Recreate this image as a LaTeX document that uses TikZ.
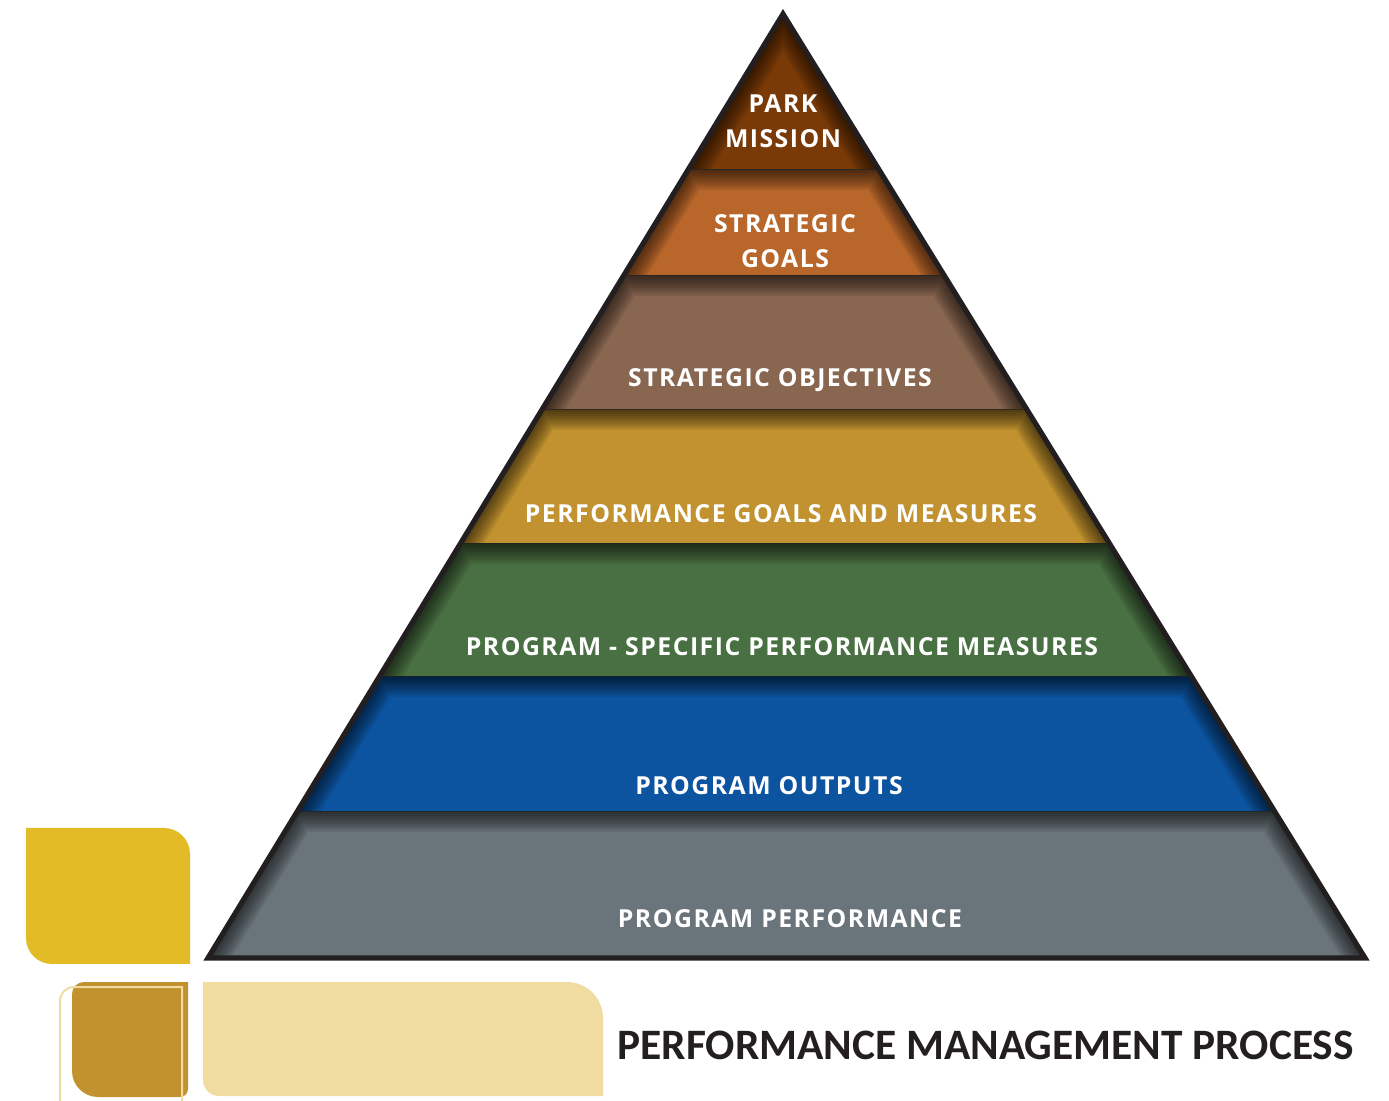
\documentclass[tikz,border=0pt]{standalone}
\usepackage{fontspec}
\setmainfont{Open Sans}
\newfontfamily\bandfont{Open Sans}[LetterSpace=6.0]
\newfontfamily\headfont{Carlito}
\usetikzlibrary{calc}

\definecolor{missionbrown}{RGB}{122,58,8}
\definecolor{goalorange}{RGB}{185,102,42}
\definecolor{objbrown}{RGB}{137,102,80}
\definecolor{perfgold}{RGB}{193,146,47}
\definecolor{progreen}{RGB}{73,112,66}
\definecolor{outblue}{RGB}{12,84,160}
\definecolor{perfgrey}{RGB}{106,116,123}
\definecolor{outlinedark}{RGB}{35,31,32}
\definecolor{tileyellow}{RGB}{226,187,38}
\definecolor{tilegold}{RGB}{194,146,46}
\definecolor{tilecream}{RGB}{240,220,160}

\begin{document}
\begin{tikzpicture}[
    x=0.5pt, y=-0.5pt,
    bandlabel/.style={text=white, font=\bandfont\bfseries\fontsize{12.4}{17.5}\selectfont, align=center, inner sep=0pt},
    shadowline/.style={line width=#1, black, opacity=0.075},
    outline/.style={draw=outlinedark, line width=2.6pt, line join=miter},
    title/.style={font=\headfont\bfseries\fontsize{21.7}{26}\selectfont, text=outlinedark, inner sep=0pt},
]
\useasboundingbox (0,0) rectangle (1389,1101);

% Pyramid corners
\coordinate (apex) at (783,14);
\coordinate (bl) at (208,958);
\coordinate (br) at (1365,958);

% Bands
\foreach \ta/\tb/\col in {0/0.1653/missionbrown, 0.1653/0.2775/goalorange,
    0.2775/0.4195/objbrown, 0.4195/0.5614/perfgold, 0.5614/0.7023/progreen,
    0.7023/0.8453/outblue, 0.8453/1/perfgrey} {
  \begin{scope}
    \clip ($(apex)!\ta!(bl)$) -- ($(apex)!\ta!(br)$) -- ($(apex)!\tb!(br)$) -- ($(apex)!\tb!(bl)$) -- cycle;
    \fill[\col] (0,0) rectangle (1389,1101);
    \foreach \w in {2,4,...,20}
      \draw[shadowline=\w pt] ($(apex)!\tb!(bl)$) -- ($(apex)!\ta!(bl)$) -- ($(apex)!\ta!(br)$) -- ($(apex)!\tb!(br)$);
  \end{scope}
  \draw[black!85, line width=1pt] ($(apex)!\tb!(bl)$) -- ($(apex)!\tb!(br)$);
}

% Outline
\draw[outline] (apex) -- (bl) -- (br) -- cycle;

% Labels
\node[bandlabel] (mission) at (783,121) {PARK\\MISSION};
\node[bandlabel] (goals) at (785,241) {STRATEGIC\\GOALS};
\node[bandlabel] (objectives) at (780,380) {STRATEGIC OBJECTIVES};
\node[bandlabel] (measures) at (781,514) {PERFORMANCE GOALS AND MEASURES};
\node[bandlabel] (specific) at (782,647) {PROGRAM - SPECIFIC PERFORMANCE MEASURES};
\node[bandlabel] (outputs) at (769,786) {PROGRAM OUTPUTS};
\node[bandlabel] (performance) at (790,919) {PROGRAM PERFORMANCE};

% Corner tiles
\fill[tileyellow] (26,828) [rounded corners=13pt] -- (190,828) [sharp corners] -- (190,964) [rounded corners=13pt] -- (26,964) [sharp corners] -- cycle;
\fill[tilegold] (188,982) [rounded corners=4pt] -- (188,1097) [rounded corners=13pt] -- (72,1097) [rounded corners=6pt] -- (72,982) [sharp corners] -- cycle;
\draw[tilecream, line width=1pt] (182,1120) -- (182,987) [rounded corners=7pt] -- (60,987) [sharp corners] -- (60,1120);
\fill[tilecream] (203,982) [rounded corners=18pt] -- (603,982) [sharp corners] -- (603,1096) [rounded corners=8pt] -- (203,1096) [sharp corners] -- cycle;

% Title
\node[title, anchor=west] (heading) at (617,1045) {PERFORMANCE MANAGEMENT PROCESS};

\end{tikzpicture}
\end{document}
